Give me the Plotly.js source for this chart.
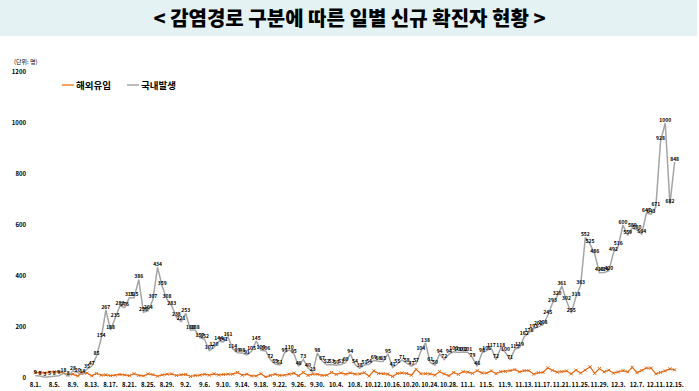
<!DOCTYPE html>
<html>
<head>
<meta charset="utf-8">
<script src="https://cdn.plot.ly/plotly-3.0.1.min.js"></script>
<style>html,body{margin:0;padding:0;background:#fff}#chart{width:699px;height:391px}</style>
</head>
<body>
<div id="chart"></div>
<script>
// Domestic (국내발생) daily cases, Aug 1 – Dec 15
const domesticAug = [9,8,3,5,8,9,18,8,28,20,14,35,47,85,154,267,188,235,283,276,315,315,386,258,264,307,434,359,308,283,238];
const domesticSep = [221,253,188,188,157,152,107,120,144,141,161,114,99,98,91,105,145,109,106,72,55,51,99,110,95,46,73,40,23,98];
const domesticOct = [67,52,53,50,53,60,94,54,38,51,54,69,66,65,95,41,55,71,58,47,57,104,138,61,50,94,72,94,103,100,102];
const domesticNov = [101,79,46,98,106,117,72,118,100,71,113,119,162,176,193,202,208,245,293,320,361,302,255,318,363,552,525,486,413,414];
const domesticDec = [420,492,516,600,559,589,580,564,647,643,671,928,1000,682,848];

// Imported (해외유입) daily cases, Aug 1 – Dec 15
const importedAug = [22,22,20,23,25,24,20,12,15,8,20,19,9,18,11,12,9,11,14,12,9,17,10,8,16,13,7,12,15,16,10];
const importedSep = [13,14,6,10,11,15,11,16,12,14,15,15,22,11,15,8,8,17,4,10,15,10,11,15,19,9,22,10,15,15];
const importedOct = [10,11,22,14,20,15,20,15,16,21,7,28,18,17,15,6,18,20,18,11,34,17,17,16,11,25,16,9,22,14,25];
const importedNov = [23,18,29,20,19,28,17,25,26,29,33,24,29,29,15,21,22,40,30,23,25,28,16,31,19,31,44,18,37,24];
const importedDec = [31,19,24,29,24,42,21,30,39,39,16,22,28,36,32];

// Tick labels (every 4th day)
const tickLabels = ["8.1.","8.5.","8.9.","8.13.","8.17.","8.21.","8.25.","8.29.","9.2.","9.6.","9.10.","9.14.","9.18.","9.22.","9.26.","9.30.","10.4.","10.8.","10.12.","10.16.","10.20.","10.24.","10.28.","11.1.","11.5.","11.9.","11.13.","11.17.","11.21.","11.25.","11.29.","12.3.","12.7.","12.11.","12.15."];
const yTicks = [0,200,400,600,800,1000,1200];

const domestic = [].concat(domesticAug, domesticSep, domesticOct, domesticNov, domesticDec);
const imported = [].concat(importedAug, importedSep, importedOct, importedNov, importedDec);
const xIdx = domestic.map((_, i) => i);
const tickVals = tickLabels.map((_, i) => i * 4);

const KR = '"Noto Sans CJK KR", "Noto Sans", sans-serif';
const ORANGE = '#E26B17';
const GRAY = '#A5A5A5';

const traces = [
  {
    x: xIdx, y: imported, name: '해외유입', type: 'scatter', mode: 'lines+markers',
    line: {color: ORANGE, width: 1.2},
    marker: {symbol: 'x-thin-open', size: 3, line: {color: ORANGE, width: 1}},
    hoverinfo: 'skip'
  },
  {
    x: xIdx, y: domestic, name: '국내발생', type: 'scatter', mode: 'lines+text',
    line: {color: GRAY, width: 1.5},
    text: domestic.map(String), textposition: 'top center',
    textfont: {family: KR, size: 5, color: '#000', weight: 700},
    cliponaxis: false, hoverinfo: 'skip'
  }
];

const PW = 644, PH = 306, ML = 33, MT = 72;
const px = v => (v - ML) / PW;        // pixel x -> paper x
const py = v => 1 + (MT - v) / PH;    // pixel y -> paper y

const layout = {
  width: 699, height: 391,
  margin: {l: ML, r: 699 - ML - PW, t: MT, b: 391 - MT - PH},
  paper_bgcolor: '#fff', plot_bgcolor: '#fff',
  showlegend: false,
  title: {
    text: '< 감염경로 구분에 따른 일별 신규 확진자 현황 >',
    font: {family: KR, size: 20, color: '#000', weight: 900},
    x: 0.5, xref: 'container', xanchor: 'center',
    y: 1 - 19 / 391, yref: 'container', yanchor: 'middle'
  },
  xaxis: {
    range: [-0.5, 136.5], tickmode: 'array', tickvals: tickVals, ticktext: tickLabels,
    tickangle: 0,
    showgrid: false, zeroline: false, showline: false, ticks: '',
    tickfont: {family: KR, size: 6, color: '#000', weight: 700},
    ticklabelstandoff: 2, automargin: false, fixedrange: true
  },
  yaxis: {
    range: [0, 1200], tickmode: 'array', tickvals: yTicks,
    showgrid: false, zeroline: false, showline: false, ticks: '',
    tickfont: {family: KR, size: 6, color: '#000', weight: 700},
    ticklabelstandoff: 6, automargin: false, fixedrange: true
  },
  shapes: [
    {type: 'rect', xref: 'paper', yref: 'paper', layer: 'below',
     x0: px(0), x1: px(697), y0: py(36), y1: py(0),
     fillcolor: '#E4F2F4', line: {width: 0}},
    {type: 'line', xref: 'paper', yref: 'paper', x0: px(62), x1: px(74), y0: py(85), y1: py(85),
     line: {color: '#F4A460', width: 2}},
    {type: 'line', xref: 'paper', yref: 'paper', x0: px(127), x1: px(139), y0: py(85), y1: py(85),
     line: {color: '#BDBDBD', width: 2}}
  ],
  annotations: [
    {text: '(단위: 명)', xref: 'paper', yref: 'paper', x: px(12), y: py(62),
     xanchor: 'left', yanchor: 'middle', showarrow: false,
     font: {family: KR, size: 6, color: '#000'}},
    {text: '해외유입', xref: 'paper', yref: 'paper',
     x: px(74), y: py(85), xanchor: 'left', yanchor: 'middle', showarrow: false,
     font: {family: KR, size: 9.5, color: '#000', weight: 700}},
    {text: '국내발생', xref: 'paper', yref: 'paper',
     x: px(139), y: py(85), xanchor: 'left', yanchor: 'middle', showarrow: false,
     font: {family: KR, size: 9.5, color: '#000', weight: 700}}
  ]
};

Plotly.newPlot('chart', traces, layout, {displayModeBar: false, staticPlot: true});
</script>
</body>
</html>
